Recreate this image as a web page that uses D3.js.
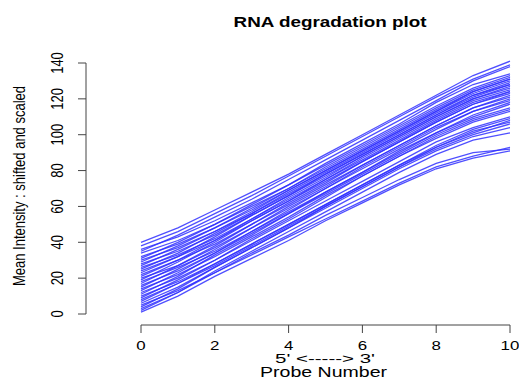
<!DOCTYPE html>
<html>
<head>
<script src="https://d3js.org/d3.v7.min.js"></script>
<style>
  body { margin: 0; background: #fff; }
  text { font-family: "Liberation Sans", Arial, sans-serif; fill: #000; }
</style>
</head>
<body>
<svg id="chart" width="519" height="379"></svg>
<script>
// probe positions along the x axis
var probes = [0, 1, 2, 3, 4, 5, 6, 7, 8, 9, 10];
var xTicks = [0, 2, 4, 6, 8, 10];
var yTicks = [0, 20, 40, 60, 80, 100, 120, 140];

// one array per chip: mean intensity (shifted and scaled) at each probe
var arrays = [
  [1, 10, 21, 31, 41, 52, 62, 72, 81, 87, 91],
  [3, 12, 23, 33, 43, 53, 63, 73, 82, 88, 93],
  [5, 13, 23, 34, 44, 55, 65, 75, 84, 90, 92],
  [2, 12, 24, 35, 46, 57, 68, 79, 89, 97, 101],
  [6, 15, 26, 37, 48, 59, 70, 81, 91, 99, 104],
  [8, 17, 27, 38, 49, 60, 71, 82, 92, 100, 106],
  [4, 14, 26, 37, 48, 60, 71, 82, 93, 101, 108],
  [10, 18, 28, 39, 50, 61, 72, 83, 93, 102, 107],
  [7, 17, 28, 39, 50, 61, 72, 83, 94, 103, 109],
  [12, 20, 30, 41, 52, 63, 74, 85, 96, 104, 110],
  [9, 19, 30, 42, 53, 65, 77, 88, 98, 107, 113],
  [14, 22, 32, 43, 54, 66, 77, 88, 99, 108, 114],
  [16, 24, 34, 45, 56, 67, 78, 89, 100, 109, 115],
  [11, 21, 33, 44, 56, 68, 79, 91, 101, 110, 117],
  [18, 26, 35, 46, 57, 68, 79, 90, 101, 111, 118],
  [13, 23, 34, 46, 58, 70, 82, 93, 104, 113, 119],
  [20, 27, 37, 48, 59, 70, 81, 92, 103, 113, 120],
  [15, 25, 36, 48, 60, 71, 83, 94, 105, 115, 121],
  [22, 30, 39, 50, 61, 72, 83, 94, 105, 115, 122],
  [17, 27, 38, 50, 62, 73, 85, 96, 107, 117, 123],
  [24, 32, 41, 52, 63, 74, 85, 96, 107, 117, 124],
  [19, 29, 40, 52, 63, 75, 86, 97, 108, 118, 124],
  [26, 33, 42, 53, 64, 75, 87, 98, 109, 119, 125],
  [21, 30, 41, 53, 65, 76, 88, 99, 110, 120, 126],
  [28, 35, 44, 55, 66, 77, 88, 99, 110, 120, 127],
  [23, 32, 43, 55, 66, 78, 89, 100, 111, 121, 128],
  [30, 37, 46, 56, 67, 78, 89, 100, 111, 122, 128],
  [25, 34, 45, 56, 68, 79, 90, 101, 112, 122, 129],
  [32, 39, 48, 58, 69, 80, 91, 102, 113, 123, 130],
  [27, 36, 46, 57, 69, 80, 91, 102, 113, 124, 131],
  [34, 41, 50, 60, 70, 81, 92, 103, 114, 124, 131],
  [29, 38, 48, 59, 70, 82, 93, 104, 115, 125, 132],
  [36, 43, 52, 62, 72, 83, 94, 105, 116, 126, 133],
  [31, 40, 50, 61, 72, 84, 95, 106, 118, 128, 134],
  [35, 44, 54, 64, 75, 86, 97, 108, 119, 130, 138],
  [38, 46, 56, 66, 77, 88, 99, 110, 121, 131, 139],
  [40, 48, 58, 68, 78, 89, 100, 111, 122, 133, 141]
];

var svg = d3.select("#chart");
var sx = 1.3; // the picture is stretched horizontally

var x = d3.scaleLinear().domain([0, 10]).range([141, 510]);
var y = d3.scaleLinear().domain([0, 140]).range([314, 63]);

var line = d3.line()
  .x(function(d, i) { return x(probes[i]); })
  .y(function(d) { return y(d); });

svg.append("g")
  .selectAll("path")
  .data(arrays)
  .enter().append("path")
  .attr("d", line)
  .attr("fill", "none")
  .attr("stroke", "#3030ff")
  .attr("stroke-width", 1.3)
  .attr("stroke-opacity", 0.85);

// axes, R style
var yAxis = svg.append("g").attr("stroke", "#444").attr("stroke-width", 1);
yAxis.append("line")
  .attr("x1", 86).attr("x2", 86)
  .attr("y1", y(0)).attr("y2", y(140));
yAxis.selectAll(".tk").data(yTicks).enter().append("line")
  .attr("x1", 78).attr("x2", 86)
  .attr("y1", function(d) { return y(d); })
  .attr("y2", function(d) { return y(d); });

svg.selectAll(".ylab").data(yTicks).enter().append("text")
  .attr("transform", function(d) { return "translate(63," + y(d) + ") scale(" + sx + ",1) rotate(-90)"; })
  .attr("text-anchor", "middle")
  .attr("font-size", 13)
  .text(function(d) { return d; });

var xAxis = svg.append("g").attr("stroke", "#444").attr("stroke-width", 1);
xAxis.append("line")
  .attr("x1", x(0)).attr("x2", x(10))
  .attr("y1", 325).attr("y2", 325);
xAxis.selectAll(".tk").data(xTicks).enter().append("line")
  .attr("x1", function(d) { return x(d); })
  .attr("x2", function(d) { return x(d); })
  .attr("y1", 325).attr("y2", 333);

svg.selectAll(".xlab").data(xTicks).enter().append("text")
  .attr("transform", function(d) { return "translate(" + x(d) + ",349.5) scale(" + sx + ",1)"; })
  .attr("text-anchor", "middle")
  .attr("font-size", 13)
  .text(function(d) { return d; });

// titles
svg.append("text")
  .attr("transform", "translate(330,27) scale(" + sx + ",1)")
  .attr("text-anchor", "middle")
  .attr("font-size", 14.5)
  .attr("font-weight", "bold")
  .text("RNA degradation plot");

svg.append("text")
  .attr("x", 275).attr("y", 362.5)
  .attr("font-size", 12)
  .attr("textLength", 100)
  .attr("lengthAdjust", "spacingAndGlyphs")
  .text("5' <-----> 3'");

svg.append("text")
  .attr("x", 260).attr("y", 377)
  .attr("font-size", 14)
  .attr("textLength", 127)
  .attr("lengthAdjust", "spacingAndGlyphs")
  .text("Probe Number");

svg.append("text")
  .attr("transform", "translate(25,186) scale(" + sx + ",1) rotate(-90)")
  .attr("text-anchor", "middle")
  .attr("font-size", 13)
  .text("Mean Intensity : shifted and scaled");
</script>
</body>
</html>
